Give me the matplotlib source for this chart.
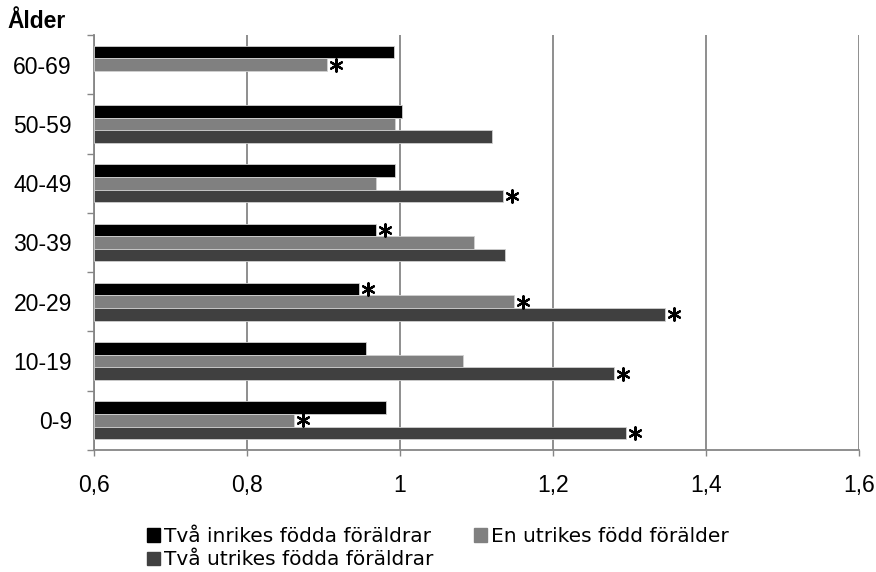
import numpy as np
import matplotlib.pyplot as plt
import matplotlib.transforms as mtransforms
from matplotlib.patches import Patch

plt.rcParams['font.family'] = ['Liberation Sans', 'DejaVu Sans']

categories = ['60-69', '50-59', '40-49', '30-39', '20-29', '10-19', '0-9']
series_names = ['Två inrikes födda föräldrar', 'En utrikes född förälder',
                'Två utrikes födda föräldrar']
two_domestic = [0.992, 1.002, 0.994, 0.968, 0.947, 0.956, 0.982]
one_foreign = [0.904, 0.993, 0.969, 1.097, 1.149, 1.082, 0.861]
two_foreign = [np.nan, 1.120, 1.134, 1.137, 1.346, 1.280, 1.295]
# significance markers (*)
sig_domestic = [False, False, False, True, True, False, False]
sig_one = [True, False, False, False, True, False, True]
sig_two = [False, False, True, False, True, True, True]
xticks = [0.6, 0.8, 1.0, 1.2, 1.4, 1.6]
xticklabels = ['0,6', '0,8', '1', '1,2', '1,4', '1,6']

colors = ['#000000', '#808080', '#404040']
xmin, xmax = 0.6, 1.6

fig = plt.figure(figsize=(8.76, 5.72), dpi=100)
ax = fig.add_axes([0.1073, 0.2133, 0.8733, 0.7255])

y = np.arange(len(categories))
h = 0.213
offsets = [-h, 0, h]
all_vals = [two_domestic, one_foreign, two_foreign]
all_sig = [sig_domestic, sig_one, sig_two]

# asterisks sit a few pixels right of the bar end
star_tr = mtransforms.offset_copy(ax.transData, fig=fig, x=9, y=0, units='dots')

for vals, sig, off, c in zip(all_vals, all_sig, offsets, colors):
    vals = np.array(vals, dtype=float)
    ax.barh(y + off, vals - xmin, left=xmin, height=h, color=c,
            edgecolor='#d0d0d0', linewidth=0.6, zorder=3)
    sig = np.array(sig) & ~np.isnan(vals)
    ax.scatter(vals[sig], (y + off)[sig], marker=(6, 2, 0), s=80, color='black',
               linewidths=1.6, transform=star_tr, zorder=4, clip_on=False)

ax.set_xlim(xmin, xmax)
ax.set_ylim(len(categories) - 0.5, -0.5)
ax.set_xticks(xticks)
ax.set_xticklabels(xticklabels, fontsize=16.5)
ax.set_yticks(y)
ax.set_yticklabels(categories, fontsize=16.5)
ax.set_yticks(np.arange(len(categories) + 1) - 0.5, minor=True)
ax.tick_params(axis='y', which='major', length=0, pad=16)
ax.tick_params(axis='y', which='minor', length=5, color='#868686', width=1)
ax.tick_params(axis='x', length=4.5, color='#868686', width=1, pad=13)

ax.grid(axis='x', color='#868686', linewidth=1.3, zorder=0)
for side in ['top', 'right']:
    ax.spines[side].set_visible(False)
for side in ['left', 'bottom']:
    ax.spines[side].set_color('#868686')
    ax.spines[side].set_linewidth(1.3)

fig.text(0.008, 0.943, 'Ålder', fontsize=16.5, fontweight='bold', ha='left', va='bottom')

handles = [Patch(color=c) for c in colors]
order = [0, 2, 1]
fig.legend([handles[i] for i in order], [series_names[i] for i in order],
           ncol=2, loc='lower left', bbox_to_anchor=(0.152, -0.02), frameon=False,
           prop={'family': 'DejaVu Sans', 'size': 14.5},
           handlelength=0.65, handleheight=0.65, handletextpad=0.2,
           columnspacing=2.0, labelspacing=0.22, borderaxespad=0.3)

fig.savefig('out.png', dpi=100)
